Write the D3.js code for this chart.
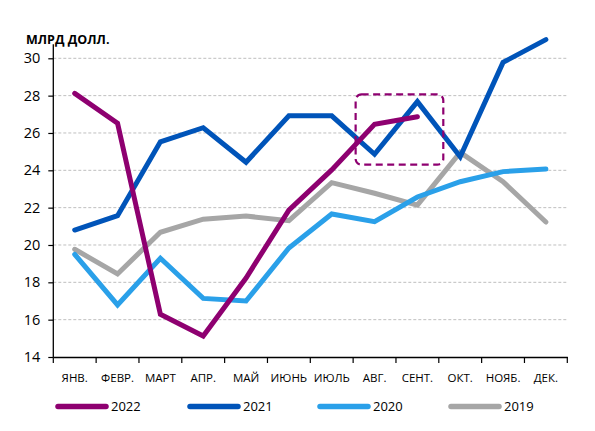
<!DOCTYPE html>
<html><head><meta charset="utf-8">
<script src="https://cdn.jsdelivr.net/npm/d3@7"></script>
<style>body{margin:0;background:#fff}svg{display:block}text{font-family:"Open Sans",sans-serif}</style>
</head><body>
<svg id="c" width="595" height="431"></svg>
<script>
const months = ["ЯНВ.","ФЕВР.","МАРТ","АПР.","МАЙ","ИЮНЬ","ИЮЛЬ","АВГ.","СЕНТ.","ОКТ.","НОЯБ.","ДЕК."];
const yTicks = [14,16,18,20,22,24,26,28,30];
const s2022 = [28.12,26.52,16.29,15.12,18.23,21.87,24.02,26.46,26.87];
const s2021 = [20.80,21.57,25.53,26.28,24.43,26.92,26.92,24.86,27.68,24.73,29.78,31.0];
const s2020 = [19.50,16.79,19.29,17.14,17.00,19.84,21.66,21.25,22.57,23.39,23.93,24.07];
const s2019 = [19.77,18.45,20.68,21.38,21.55,21.30,23.34,22.77,22.14,24.96,23.39,21.23];
const seriesNames = ["2022","2021","2020","2019"];
const seriesColors = ["#8E0070","#0054B9","#2AA0E9","#A6A6A6"];
const highlightMonths = ["АВГ.","СЕНТ."];
const highlightRange = [24.3,28.07];

const series = [s2022,s2021,s2020,s2019];
const svg = d3.select("#c");
const L=53.3, R=567.3, T=58.3, B=357;
const x = d3.scaleBand().domain(months).range([L,R]);
const y = d3.scaleLinear().domain([14,30]).range([B,T]);

// gridlines
svg.append("g").selectAll("line").data(yTicks.filter(d=>d>14)).join("line")
  .attr("x1",L).attr("x2",R).attr("y1",d=>y(d)).attr("y2",d=>y(d))
  .attr("stroke","#BFBFBF").attr("stroke-width",1).attr("stroke-dasharray","3,2");

// y axis
const ya = svg.append("g").attr("transform",`translate(${L},0)`)
  .call(d3.axisLeft(y).tickValues(yTicks).tickSize(5).tickPadding(8));
ya.select(".domain").attr("d",`M0,${B}V${T-14}`).attr("stroke","#000").attr("stroke-width",1.3);
ya.selectAll(".tick line").attr("stroke","#000").attr("stroke-width",1.2);
ya.selectAll(".tick text").attr("font-size",14.5).attr("fill","#000").style("font-family","'Open Sans',sans-serif");

// x axis
const xa = svg.append("g").attr("transform",`translate(0,${B})`)
  .call(d3.axisBottom(x).tickSize(0).tickPadding(17));
xa.select(".domain").attr("stroke","#000").attr("stroke-width",1.5);
xa.selectAll(".tick text").attr("font-size",11.5).attr("fill","#000").style("font-family","'Open Sans',sans-serif");
const bounds = months.map(m=>x(m)).concat([x(months[months.length-1])+x.bandwidth()]);
svg.append("g").selectAll("line").data(bounds).join("line")
  .attr("x1",d=>d).attr("x2",d=>d).attr("y1",B).attr("y2",B+6)
  .attr("stroke","#000").attr("stroke-width",1.2);

// title
svg.append("text").attr("x",26).attr("y",44).attr("font-size",12.5).attr("font-weight","bold")
  .attr("fill","#000").text("МЛРД ДОЛЛ.");

// lines
const line = d3.line().x((d,i)=>x(months[i])+x.bandwidth()/2).y(d=>y(d));
[3,2,1,0].forEach(k=>{
  svg.append("path").datum(series[k]).attr("d",line)
    .attr("fill","none").attr("stroke",seriesColors[k]).attr("stroke-width",5)
    .attr("stroke-linejoin","miter").attr("stroke-linecap","round");
});

// highlight box
const hx0 = x(highlightMonths[0])+2.5, hx1 = x(highlightMonths[1])+x.bandwidth()+4.5;
svg.append("rect").attr("x",hx0).attr("y",y(highlightRange[1]))
  .attr("width",hx1-hx0).attr("height",y(highlightRange[0])-y(highlightRange[1]))
  .attr("rx",6).attr("fill","none").attr("stroke","#8E0070").attr("stroke-width",2.2)
  .attr("stroke-dasharray","7,4.5");

// legend
const legX = [58,190,320,451];
const lg = svg.append("g");
seriesNames.forEach((n,i)=>{
  lg.append("line").attr("x1",legX[i]).attr("x2",legX[i]+48).attr("y1",406.5).attr("y2",406.5)
    .attr("stroke",seriesColors[i]).attr("stroke-width",5.5).attr("stroke-linecap","round");
  lg.append("text").attr("x",legX[i]+53).attr("y",411).attr("font-size",13).attr("fill","#000").text(n);
});
</script>
</body></html>
